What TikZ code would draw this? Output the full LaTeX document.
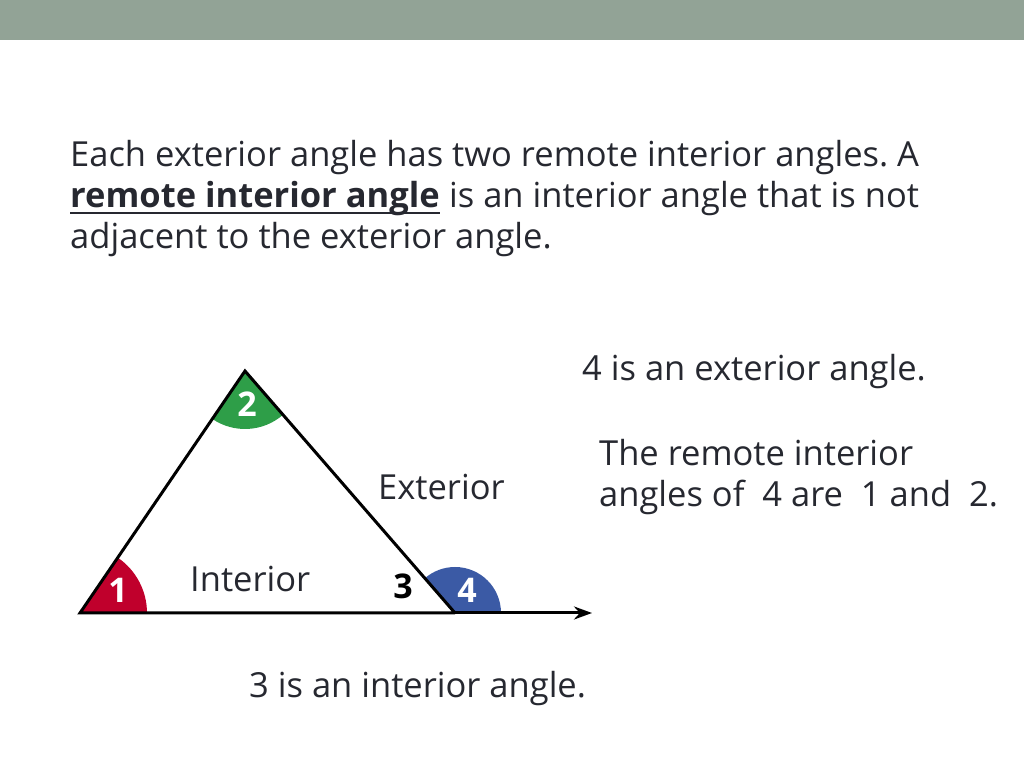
\documentclass[tikz,border=0pt]{standalone}
\usepackage{fontspec}
\setmainfont{Open Sans}
\usetikzlibrary{arrows.meta}
\definecolor{barcol}{HTML}{92A396}
\definecolor{txt}{HTML}{262830}
\definecolor{redA}{HTML}{C0002C}
\definecolor{greenA}{HTML}{2E9E48}
\definecolor{blueA}{HTML}{3B5AA5}
\frenchspacing
\tikzset{
  body/.style={anchor=base west, inner sep=0pt, text=txt, font=\fontsize{34.5}{40}\selectfont},
  fig/.style={anchor=base west, inner sep=0pt, text=txt, font=\fontsize{34.5}{40}\selectfont},
  num/.style={anchor=base, inner sep=0pt, font=\fontsize{34}{38}\selectfont\bfseries},
  side/.style={line width=3pt, black},
}
\begin{document}
\begin{tikzpicture}[x=1pt,y=1pt]
\useasboundingbox (0,0) rectangle (1024,768);
\fill[white] (0,0) rectangle (1024,768);
\fill[barcol] (0,728) rectangle (1024,768);
% text
\node[body] (t1) at (70,601) {Each exterior angle has two remote interior angles. A};
\node[body] (t2a) at (70,560) {\textbf{remote interior angle}};
\node[body] (t2b) at (t2a.base east) {\ is an interior angle that is not};
\draw[txt, line width=2pt] ([yshift=-5pt]t2a.base west) -- ([yshift=-5pt]t2a.base east);
\node[body] (t3) at (70,519) {adjacent to the exterior angle.};
\node[body] (r1) at (582,387) {4 is an exterior angle.};
\node[body] (r2) at (599,302) {The remote interior};
\node[body] (r3) at (599,261) {angles of \ 4 are \ 1 and \ 2.};
\node[body] (b1) at (249,71) {3 is an interior angle.};
% triangle
\coordinate (A) at (80,155);
\coordinate (B) at (245,397);
\coordinate (C) at (455,155);
\coordinate (E) at (592,155);
\fill[redA] (A) -- ++(0:67) arc[start angle=0,end angle=55.7,radius=67] -- cycle;
\fill[greenA] (B) -- ++(235.7:58) arc[start angle=235.7,end angle=310.95,radius=58] -- cycle;
\fill[blueA] (C) -- ++(0:46) arc[start angle=0,end angle=130.95,radius=46] -- cycle;
\draw[side, line join=miter] (C) -- (A) -- (B) -- (C);
\draw[side, -{Stealth[length=18pt,width=13pt]}] (C) -- (E);
\node[num, text=white] (n1) at (118,165) {1};
\node[num, text=white] (n2) at (247,351) {2};
\node[num, text=white] (n4) at (467,165) {4};
\node[num, text=black] (n3) at (403,169) {3};
\node[fig] (li) at (190,176) {Interior};
\node[fig] (le) at (378,268) {Exterior};
\end{tikzpicture}
\end{document}
